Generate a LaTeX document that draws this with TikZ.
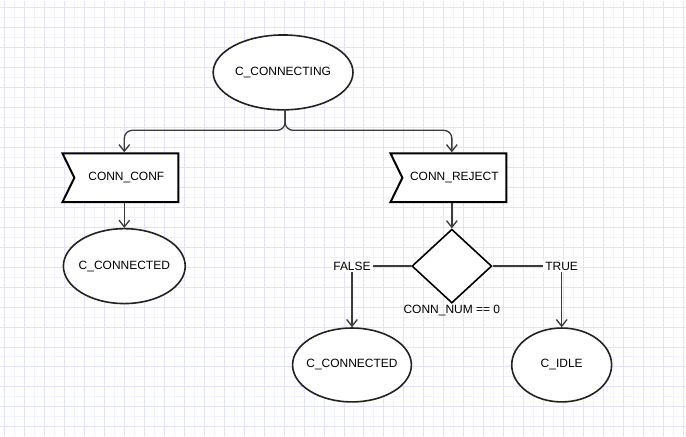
\documentclass[tikz,border=0pt]{standalone}
\usepackage{xcolor}
\usepackage{fontspec}
\setmainfont{Liberation Sans}
\usepackage{tikz}
\usetikzlibrary{shapes.geometric,shapes.symbols,arrows.meta}

\definecolor{gridminor}{RGB}{241,241,255}
\definecolor{gridmajor}{RGB}{226,226,255}
\definecolor{linegray}{RGB}{60,60,60}

\tikzset{
	state/.style={ellipse, draw={rgb,255:red,34;green,34;blue,34}, line width=1.2pt, fill=white, inner sep=0pt, font=\fontsize{9}{11}\selectfont},
	event/.style={signal, signal to=nowhere, signal from=west, signal pointer angle=128, draw=black, line width=1.5pt, fill=white, minimum width=87pt, minimum height=36.75pt, inner sep=0pt, font=\fontsize{9}{11}\selectfont},
	decision/.style={diamond, draw=black, line width=1.2pt, fill=white, inner sep=0pt, minimum width=60pt, minimum height=55.5pt},
	conn/.style={draw=linegray, line width=1pt, -{Straight Barb[length=5pt,width=8pt,line width=1pt]}},
	edgelabel/.style={fill=white, inner sep=1.5pt, font=\fontsize{9}{11}\selectfont}
}

\begin{document}
\begin{tikzpicture}[x=0.75pt,y=0.75pt,yscale=-1,xscale=1]

	% background grid
	\fill[white] (0,0) rectangle (686,436);
	\foreach \gx in {4,14,...,684} {\draw[gridminor, line width=0.75pt] (\gx,0) -- (\gx,436);}
	\foreach \gy in {7,17,...,434} {\draw[gridminor, line width=0.75pt] (0,\gy) -- (686,\gy);}
	\foreach \gx in {4,24,...,684} {\draw[gridmajor, line width=0.75pt] (\gx,0) -- (\gx,436);}
	\foreach \gy in {7,27,...,434} {\draw[gridmajor, line width=0.75pt] (0,\gy) -- (686,\gy);}
	\useasboundingbox (0,0) rectangle (686,436);

	% States
	\node[state, minimum width=105pt, minimum height=56.25pt] (connecting) at (283,72) {C\_CONNECTING};
	\node[state, minimum width=91.5pt, minimum height=56.25pt, inner xsep=-4pt] (connectedA) at (124,266) {C\_CONNECTED};
	\node[state, minimum width=89.25pt, minimum height=55.5pt, inner xsep=-6pt] (connectedB) at (352,365) {C\_CONNECTED};
	\node[state, minimum width=75pt, minimum height=55.5pt] (idle) at (562,365) {C\_IDLE};

	% Events
	\node[event] (conf) at (126,177.5) {CONN\_CONF};
	\node[event] (reject) at (454.5,177.5) {CONN\_REJECT};

	% Decision
	\node[decision, label={[font=\fontsize{9}{11}\selectfont, inner sep=1pt]below:CONN\_NUM == 0}] (numcheck) at (452,266) {};

	% Connectors
	\coordinate (split) at (285,130);
	\draw[conn, rounded corners=6pt] (connecting.south -| split) -- (split) -| (conf.north -| 124,0);
	\draw[conn, rounded corners=6pt] (connecting.south -| split) -- (split) -| (reject.north -| 452,0);
	\draw[conn] (conf.south -| connectedA.north) -- (connectedA.north);
	\draw[conn] (reject.south -| numcheck.north) -- (numcheck.north);
	\draw[conn] (numcheck.west) -| (connectedB.north) node[edgelabel, pos=0.5] {FALSE};
	\draw[conn] (numcheck.east) -| (idle.north) node[edgelabel, pos=0.5] {TRUE};

\end{tikzpicture}
\end{document}
